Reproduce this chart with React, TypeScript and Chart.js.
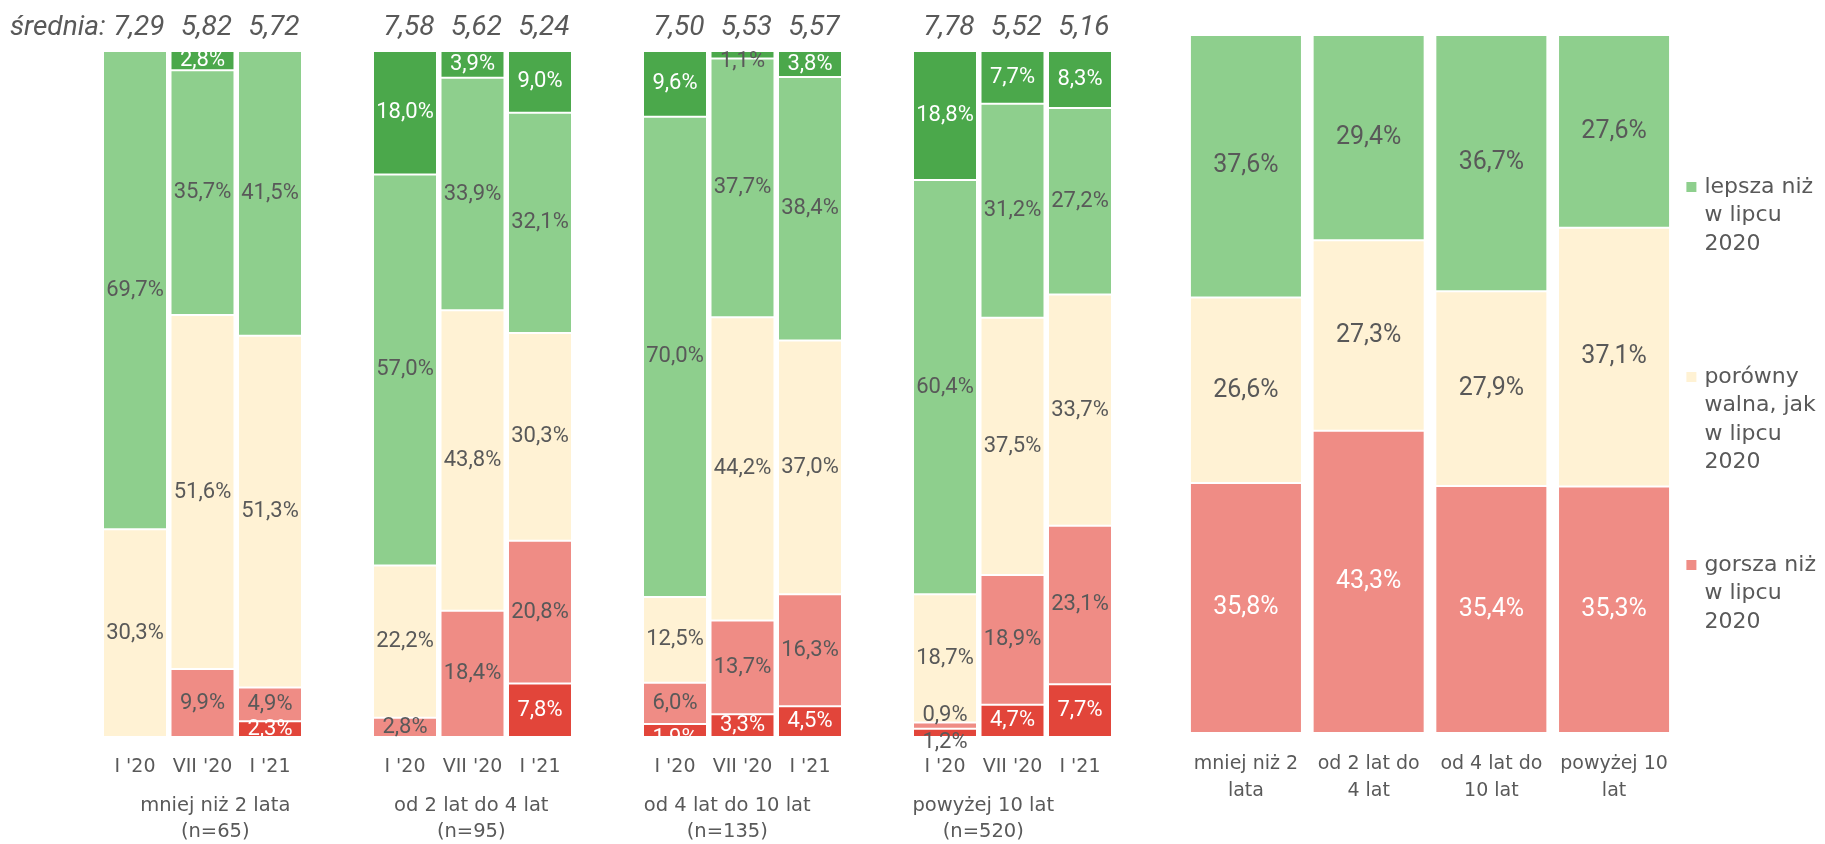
import { useEffect, useRef } from "react";
import { Chart, registerables } from "chart.js";

Chart.register(...registerables);

// ---------- data ----------
const periods = ["I '20", "VII '20", "I '21"];
const groupNames = ["mniej niż 2 lata", "od 2 lat do 4 lat", "od 4 lat do 10 lat", "powyżej 10 lat"];
const groupSizes = ["(n=65)", "(n=95)", "(n=135)", "(n=520)"];

// order: group1 (I '20, VII '20, I '21), group2 ..., group3 ..., group4 ...
const muchWorse = [0, 0, 2.3, 0, 0, 7.8, 1.9, 3.3, 4.5, 1.2, 4.7, 7.7];
const worse = [0, 9.9, 4.9, 2.8, 18.4, 20.8, 6.0, 13.7, 16.3, 0.9, 18.9, 23.1];
const same = [30.3, 51.6, 51.3, 22.2, 43.8, 30.3, 12.5, 44.2, 37.0, 18.7, 37.5, 33.7];
const better = [69.7, 35.7, 41.5, 57.0, 33.9, 32.1, 70.0, 37.7, 38.4, 60.4, 31.2, 27.2];
const muchBetter = [0, 2.8, 0, 18.0, 3.9, 9.0, 9.6, 1.1, 3.8, 18.8, 7.7, 8.3];
const averages = [7.29, 5.82, 5.72, 7.58, 5.62, 5.24, 7.5, 5.53, 5.57, 7.78, 5.52, 5.16];
const averageCaption = "średnia:";

const summaryCategories = [
  ["mniej niż 2", "lata"],
  ["od 2 lat do", "4 lat"],
  ["od 4 lat do", "10 lat"],
  ["powyżej 10", "lat"],
];
const summaryWorse = [35.8, 43.3, 35.4, 35.3];
const summarySame = [26.6, 27.3, 27.9, 37.1];
const summaryBetter = [37.6, 29.4, 36.7, 27.6];
const legendLabels = [
  ["lepsza niż", "w lipcu", "2020"],
  ["porówny", "walna, jak", "w lipcu", "2020"],
  ["gorsza niż", "w lipcu", "2020"],
];

// ---------- styles ----------
const DARK_RED = "#E2453A";
const LIGHT_RED = "#EF8C85";
const CREAM = "#FFF2D4";
const LIGHT_GREEN = "#8ECF8D";
const DARK_GREEN = "#4BA84B";
const GRAY = "#595959";
const WHITE = "#FFFFFF";
const NUM_FONT = "Roboto, 'DejaVu Sans', sans-serif";
const WORD_FONT = "'DejaVu Sans', Roboto, sans-serif";

// per-label style tweaks, keyed "dataset:index(0..11)"
const labelTweaks: Record<string, { color?: string; dy?: number }> = {
  "0:6": { dy: 8 },
  "4:7": { color: GRAY, dy: 7 },
  "0:9": { color: GRAY, dy: 10 },
  "1:9": { dy: -10 },
};

const fmtPct = (v: number) => v.toFixed(1).replace(".", ",") + "%";
const fmtAvg = (v: number) => v.toFixed(2).replace(".", ",");

// 12 values -> 15 slots (an empty slot between groups)
const toSlots = (arr: any[], gap: any) => {
  const out: any[] = [];
  for (let g = 0; g < 4; g++) {
    for (let k = 0; k < 3; k++) out.push(arr[g * 3 + k]);
    if (g < 3) out.push(gap);
  }
  return out;
};
const slotToIndex = (slot: number) => {
  const g = Math.floor(slot / 4);
  const k = slot % 4;
  return k === 3 ? -1 : g * 3 + k;
};
const nz = (v: number) => (v > 0 ? v : null);

const leftPlugin = {
  id: "leftDecor",
  afterDatasetsDraw(chart: any) {
    const ctx = chart.ctx;
    const area = chart.chartArea;
    const xScale = chart.scales.x;
    ctx.save();
    ctx.textAlign = "center";
    ctx.textBaseline = "middle";
    // data labels
    ctx.font = `22px ${NUM_FONT}`;
    chart.data.datasets.forEach((ds: any, di: number) => {
      const meta = chart.getDatasetMeta(di);
      meta.data.forEach((el: any, slot: number) => {
        const v = ds.data[slot];
        if (v == null || v <= 0) return;
        const idx = slotToIndex(slot);
        const tw = labelTweaks[`${di}:${idx}`] || {};
        const { x, y, base } = el.getProps(["x", "y", "base"], true);
        ctx.fillStyle = tw.color || ds.labelColor;
        ctx.fillText(fmtPct(v), x, (y + base) / 2 + (tw.dy || 0));
      });
    });
    // averages
    ctx.font = `italic 28px ${NUM_FONT}`;
    ctx.fillStyle = GRAY;
    for (let slot = 0; slot < 15; slot++) {
      const idx = slotToIndex(slot);
      if (idx < 0) continue;
      ctx.fillText(fmtAvg(averages[idx]), xScale.getPixelForValue(slot) + 4, area.top - 23);
    }
    ctx.textAlign = "left";
    ctx.fillText(averageCaption, 10, area.top - 23);
    // group labels
    ctx.textAlign = "center";
    ctx.font = `19.5px ${WORD_FONT}`;
    for (let g = 0; g < 4; g++) {
      const cx = area.left + 114 + 256 * g;
      ctx.fillText(groupNames[g], cx, area.bottom + 69);
      ctx.fillText(groupSizes[g], cx, area.bottom + 95);
    }
    ctx.restore();
  },
};

const rightPlugin = {
  id: "rightDecor",
  afterDatasetsDraw(chart: any) {
    const ctx = chart.ctx;
    const area = chart.chartArea;
    ctx.save();
    ctx.textAlign = "center";
    ctx.textBaseline = "middle";
    ctx.font = `25px ${NUM_FONT}`;
    chart.data.datasets.forEach((ds: any, di: number) => {
      const meta = chart.getDatasetMeta(di);
      meta.data.forEach((el: any, i: number) => {
        const v = ds.data[i];
        if (v == null) return;
        const { x, y, base } = el.getProps(["x", "y", "base"], true);
        ctx.fillStyle = ds.labelColor;
        ctx.fillText(fmtPct(v), x, (y + base) / 2);
      });
    });
    // legend (top to bottom: better, same, worse)
    const order = [2, 1, 0];
    const itemTops = [152, 342, 530];
    const x0 = area.right + 11;
    ctx.textAlign = "left";
    ctx.font = `22px ${WORD_FONT}`;
    order.forEach((di, k) => {
      const ds = chart.data.datasets[di];
      const y0 = area.top + itemTops[k];
      ctx.fillStyle = ds.backgroundColor;
      ctx.fillRect(x0, y0 - 5, 10, 10);
      ctx.fillStyle = GRAY;
      legendLabels[k].forEach((line, li) => {
        ctx.fillText(line, x0 + 18, y0 + li * 28.5);
      });
    });
    ctx.restore();
  },
};

function LeftChart() {
  const ref = useRef<HTMLCanvasElement | null>(null);
  useEffect(() => {
    if (!ref.current) return;
    const mk = (label: string, arr: number[], color: string, labelColor: string) => ({
      label,
      data: toSlots(arr.map(nz), null),
      backgroundColor: color,
      borderColor: WHITE,
      borderWidth: 1,
      borderSkipped: false,
      labelColor,
    });
    const chart = new Chart(ref.current, {
      type: "bar",
      data: {
        labels: toSlots(periods.concat(periods, periods, periods), ""),
        datasets: [
          mk("dużo gorsza", muchWorse, DARK_RED, WHITE),
          mk("gorsza", worse, LIGHT_RED, GRAY),
          mk("porównywalna", same, CREAM, GRAY),
          mk("lepsza", better, LIGHT_GREEN, GRAY),
          mk("dużo lepsza", muchBetter, DARK_GREEN, WHITE),
        ] as any,
      },
      options: {
        responsive: false,
        animation: false,
        layout: { padding: { left: 101.25, right: 16.25, top: 51, bottom: 0 } },
        datasets: { bar: { categoryPercentage: 1, barPercentage: 0.948 } },
        plugins: { legend: { display: false }, tooltip: { enabled: false } },
        scales: {
          x: {
            stacked: true,
            grid: { display: false, drawTicks: false },
            border: { display: false },
            ticks: {
              autoSkip: false,
              maxRotation: 0,
              padding: 18.6,
              color: GRAY,
              font: { family: WORD_FONT, size: 19 },
            },
            afterFit: (s: any) => {
              s.height = 107;
            },
          },
          y: { stacked: true, display: false, min: 0, max: 100 },
        },
      } as any,
      plugins: [leftPlugin],
    });
    return () => chart.destroy();
  }, []);
  return (
    <canvas
      ref={ref}
      width={1130}
      height={844}
      style={{ position: "absolute", left: 0, top: 0, width: 1130, height: 844 }}
    />
  );
}

function RightChart() {
  const ref = useRef<HTMLCanvasElement | null>(null);
  useEffect(() => {
    if (!ref.current) return;
    const mk = (label: string, arr: number[], color: string, labelColor: string) => ({
      label,
      data: arr,
      backgroundColor: color,
      borderColor: WHITE,
      borderWidth: 1,
      borderSkipped: false,
      labelColor,
    });
    const chart = new Chart(ref.current, {
      type: "bar",
      data: {
        labels: summaryCategories as any,
        datasets: [
          mk("gorsza niż w lipcu 2020", summaryWorse, LIGHT_RED, WHITE),
          mk("porównywalna, jak w lipcu 2020", summarySame, CREAM, GRAY),
          mk("lepsza niż w lipcu 2020", summaryBetter, LIGHT_GREEN, GRAY),
        ] as any,
      },
      options: {
        responsive: false,
        animation: false,
        layout: { padding: { left: 54.6, right: 149.6, top: 35, bottom: 0 } },
        datasets: { bar: { categoryPercentage: 1, barPercentage: 0.913 } },
        plugins: { legend: { display: false }, tooltip: { enabled: false } },
        scales: {
          x: {
            stacked: true,
            grid: { display: false, drawTicks: false },
            border: { display: false },
            ticks: {
              autoSkip: false,
              maxRotation: 0,
              padding: 17.5,
              color: GRAY,
              font: { family: WORD_FONT, size: 19, lineHeight: 1.42 },
            },
            afterFit: (s: any) => {
              s.height = 111;
            },
          },
          y: { stacked: true, display: false, min: 0, max: 100 },
        },
      } as any,
      plugins: [rightPlugin],
    });
    return () => chart.destroy();
  }, []);
  return (
    <canvas
      ref={ref}
      width={695}
      height={844}
      style={{ position: "absolute", left: 1130, top: 0, width: 695, height: 844 }}
    />
  );
}

export default function App() {
  return (
    <div
      style={{
        position: "absolute",
        left: 0,
        top: 0,
        width: 1825,
        height: 844,
        background: "#FFFFFF",
        overflow: "hidden",
      }}
    >
      <LeftChart />
      <RightChart />
    </div>
  );
}
